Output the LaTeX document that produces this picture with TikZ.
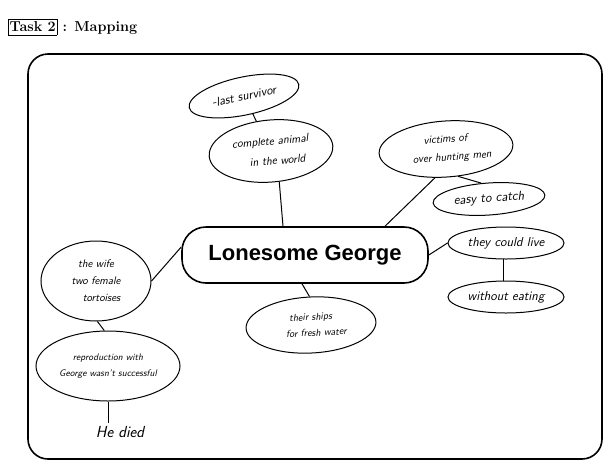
\documentclass[tikz,border=0pt]{standalone}
\usepackage{fontspec}
\newfontfamily\georgefont{Liberation Sans}
\usepackage{tikz}
\usetikzlibrary{shapes.geometric, positioning}

\tikzset{
  bubble/.style n args={2}{ellipse, draw, line width=1pt, inner sep=0pt, align=center,
                 font=\sffamily\itshape\fontsize{#1}{#2}\selectfont},
  link/.style={line width=1pt},
}

\begin{document}
\begin{tikzpicture}[x=1pt, y=-1pt]
        \useasboundingbox (0,0) rectangle (605,461);

        % title and frame
        \node[anchor=west, font=\bfseries\Large, inner sep=0pt] (title) at (8,27)
             {\fbox{\kern-2pt Task 2\kern-2pt}\ : Mapping};
        \draw[line width=1.6pt, rounded corners=20pt] (28,54) rectangle (602,459);

        % centre
        \node[draw, line width=1.6pt, rounded corners=24pt, minimum width=246pt,
              minimum height=56pt, font=\georgefont\bfseries\fontsize{22}{24}\selectfont]
              at (305,255) (george) {Lonesome George};

        % bubbles
        \node[bubble={12.5}{15}, minimum width=112pt, minimum height=38pt, rotate=12] at (244,96)  (lost)     {-last survivor};
        \node[bubble={11.5}{20}, minimum width=124pt, minimum height=62pt, rotate=5]  at (271,151) (complete) {complete animal\\ \quad in the world};
        \node[bubble={11}{18},   minimum width=134pt, minimum height=56pt, rotate=4]  at (446,149) (victims)  {victims of\\ \quad over hunting men};
        \node[bubble={13}{15},   minimum width=112pt, minimum height=32pt, rotate=4]  at (489,199) (easy)     {easy to catch};
        \node[bubble={13}{15},   minimum width=116pt, minimum height=32pt]            at (506,243) (live)     {they could live};
        \node[bubble={13}{15},   minimum width=116pt, minimum height=32pt]            at (506,297) (eating)   {without eating};
        \node[bubble={11}{17},   minimum width=110pt, minimum height=80pt]            at (96,281)  (wife)     {the wife\\ two female\\ \quad tortoises};
        \node[bubble={9.5}{16},  minimum width=144pt, minimum height=70pt]            at (108,366) (repro)    {reproduction with\\ George wasn't successful};
        \node[bubble={10}{16},   minimum width=130pt, minimum height=56pt, rotate=3]  at (311,325) (ships)    {their ships\\ \quad for fresh water};
        \node[font=\sffamily\itshape\fontsize{16}{18}\selectfont] at (120,432) (died) {He died};

        % links
        \draw[link] (lost) -- (complete);
        \draw[link] (complete.-80) -- ([xshift=-22pt]george.north);
        \draw[link] (victims.-115) -- ([xshift=80pt]george.north);
        \draw[link] (victims.-70) -- (easy.112);
        \draw[link] (george.east) -- (live.west);
        \draw[link] (live.-100) -- (eating.100);
        \draw[link] ([yshift=8pt]george.west) -- (wife.east);
        \draw[link] (wife.-88) -- (repro.96);
        \draw[link] (repro.south) -- (died.north -| repro.south);
        \draw[link] ([xshift=-3pt]george.south) -- (ships.north);
    \end{tikzpicture}
\end{document}
